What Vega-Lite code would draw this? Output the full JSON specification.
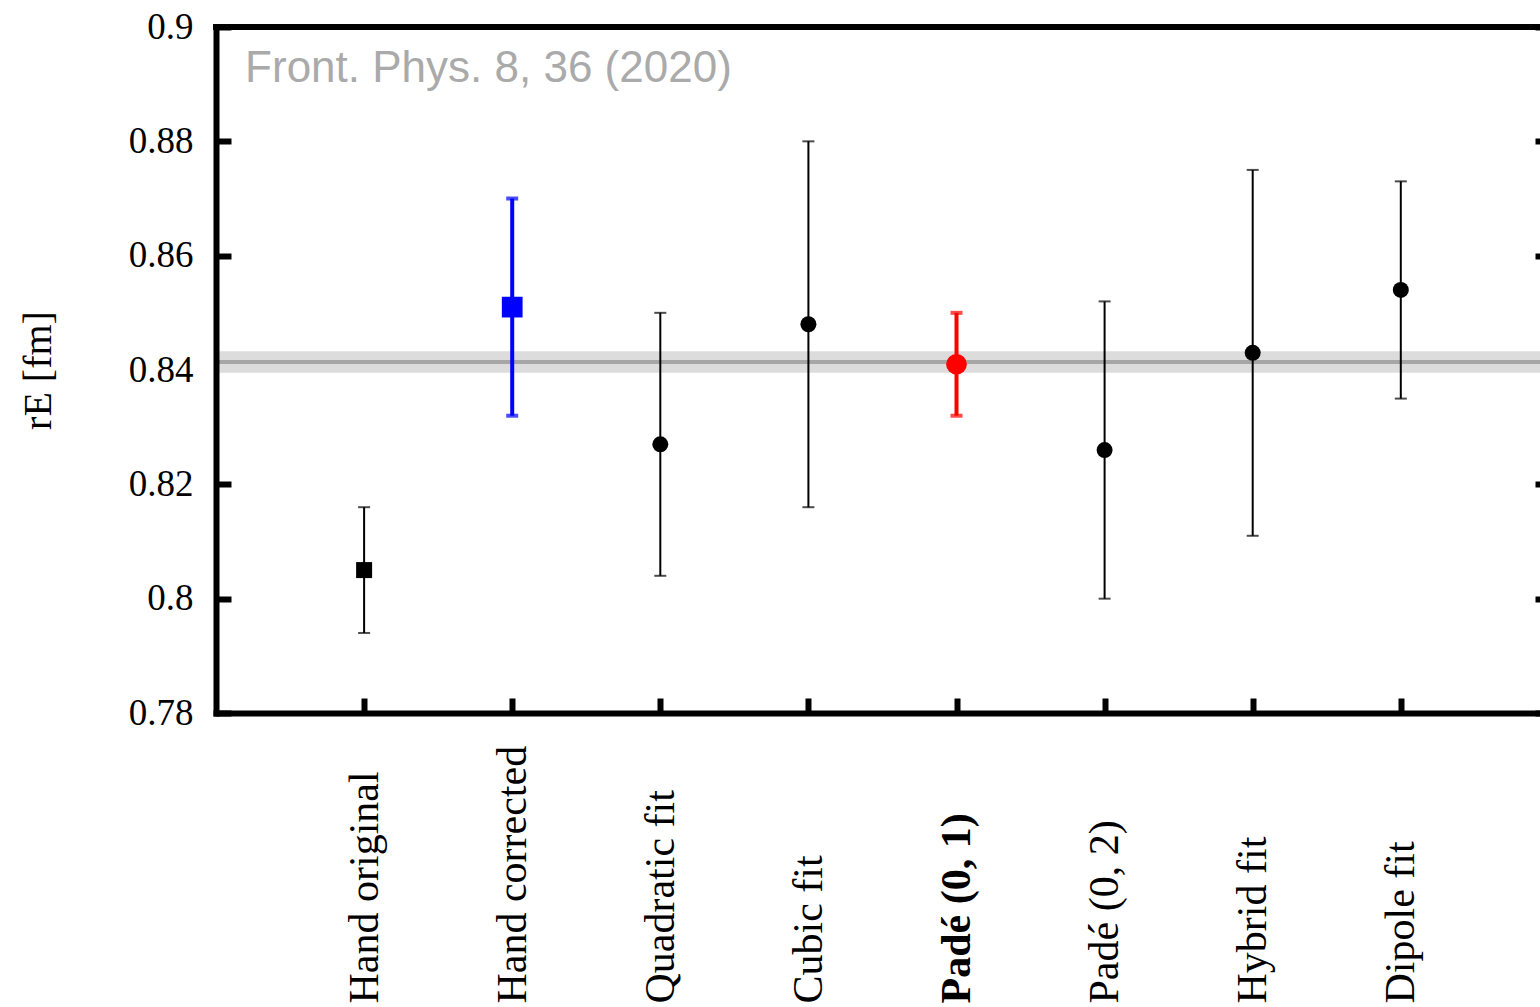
{
  "$schema": "https://vega.github.io/schema/vega-lite/v6.json",
  "width": 1324,
  "height": 686,
  "autosize": {"type": "none"},
  "padding": {"left": 216, "top": 27, "right": 0, "bottom": 294},
  "background": "white",
  "config": {
    "view": {"stroke": null},
    "axis": {"grid": false}
  },
  "datasets": {
    "radii": [
      {"method": "Hand original", "kind": "hand", "group": "previous", "r": 0.805, "lo": 0.794, "hi": 0.816},
      {"method": "Hand corrected", "kind": "hand", "group": "corrected", "r": 0.851, "lo": 0.832, "hi": 0.870},
      {"method": "Quadratic fit", "kind": "fit", "group": "previous", "r": 0.827, "lo": 0.804, "hi": 0.850},
      {"method": "Cubic fit", "kind": "fit", "group": "previous", "r": 0.848, "lo": 0.816, "hi": 0.880},
      {"method": "Padé (0, 1)", "kind": "fit", "group": "preferred", "r": 0.841, "lo": 0.832, "hi": 0.850},
      {"method": "Padé (0, 2)", "kind": "fit", "group": "previous", "r": 0.826, "lo": 0.800, "hi": 0.852},
      {"method": "Hybrid fit", "kind": "fit", "group": "previous", "r": 0.843, "lo": 0.811, "hi": 0.875},
      {"method": "Dipole fit", "kind": "fit", "group": "previous", "r": 0.854, "lo": 0.835, "hi": 0.873}
    ],
    "codata": [
      {"r": 0.8414, "lo": 0.8395, "hi": 0.8433}
    ],
    "source": [
      {"note": "Front. Phys. 8, 36 (2020)"}
    ]
  },
  "resolve": {"axis": {"y": "independent"}},
  "layer": [
    {
      "data": {"name": "codata"},
      "mark": {"type": "rect", "color": "#dcdcdc"},
      "encoding": {
        "y": {
          "field": "lo",
          "type": "quantitative",
          "scale": {"domain": [0.78, 0.9], "nice": false, "zero": false},
          "axis": {
            "title": "rE  [fm]",
            "titleFont": "Liberation Serif",
            "titleFontSize": 40,
            "titleFontWeight": "normal",
            "titleColor": "black",
            "titlePadding": 70,
            "values": [0.78, 0.8, 0.82, 0.84, 0.86, 0.88, 0.9],
            "format": ".2~f",
            "labelFont": "Liberation Serif",
            "labelFontSize": 37,
            "labelColor": "black",
            "labelPadding": 38,
            "tickSize": -15,
            "tickWidth": 6,
            "tickColor": {"condition": {"test": "datum.value === 0.84", "value": "transparent"}, "value": "black"},
            "domainWidth": 6,
            "domainColor": "black",
            "domainCap": "square",
            "zindex": 1
          }
        },
        "y2": {"field": "hi"}
      }
    },
    {
      "data": {"name": "codata"},
      "mark": {"type": "rule", "color": "#a6a6a6", "strokeWidth": 4},
      "encoding": {
        "y": {
          "field": "r",
          "type": "quantitative",
          "axis": {
            "orient": "right",
            "title": null,
            "labels": false,
            "domain": false,
            "values": [0.78, 0.8, 0.82, 0.84, 0.86, 0.88, 0.9],
            "tickSize": -5,
            "tickWidth": 6,
            "tickColor": {"condition": {"test": "datum.value === 0.84", "value": "transparent"}, "value": "black"},
            "zindex": 1
          }
        }
      }
    },
    {
      "data": {"name": "codata"},
      "mark": {"type": "rule", "color": "black", "strokeWidth": 6, "strokeCap": "square"},
      "encoding": {
        "y": {"datum": 0.9, "type": "quantitative", "axis": null}
      }
    },
    {
      "data": {"name": "radii"},
      "mark": {"type": "rule"},
      "encoding": {
        "x": {
          "field": "method",
          "type": "nominal",
          "sort": null,
          "scale": {
            "type": "point",
            "padding": 0.97,
            "align": 0.5155,
            "domain": ["Hand original", "Hand corrected", "Quadratic fit", "Cubic fit", "Padé (0, 1)", "Padé (0, 2)", "Hybrid fit", "Dipole fit"]
          },
          "axis": {
            "title": null,
            "orient": "bottom",
            "labelAngle": -90,
            "labelAlign": "left",
            "labelBaseline": "middle",
            "labelPadding": 305,
            "labelFont": "Liberation Serif",
            "labelFontSize": 42,
            "labelColor": "black",
            "labelFontWeight": {"condition": {"test": "datum.value === 'Padé (0, 1)'", "value": "bold"}, "value": "normal"},
            "labelLimit": 0,
            "labelOverlap": false,
            "tickSize": -15,
            "tickWidth": 6,
            "tickColor": "black",
            "domainWidth": 6,
            "domainColor": "black",
            "domainCap": "square",
            "zindex": 1
          }
        },
        "y": {"field": "lo", "type": "quantitative", "axis": null},
        "y2": {"field": "hi"},
        "color": {
          "field": "group",
          "type": "nominal",
          "scale": {"domain": ["previous", "corrected", "preferred"], "range": ["#000000", "#0000ff", "#ff0000"]},
          "legend": null
        },
        "strokeWidth": {"condition": {"test": "datum.group !== 'previous'", "value": 4}, "value": 2}
      }
    },
    {
      "data": {"name": "radii"},
      "transform": [
        {"filter": "datum.group === 'previous'"},
        {"fold": ["lo", "hi"], "as": ["end", "bound"]}
      ],
      "mark": {"type": "tick", "size": 12, "thickness": 2},
      "encoding": {
        "x": {"field": "method", "type": "nominal", "sort": null},
        "y": {"field": "bound", "type": "quantitative", "axis": null},
        "color": {"field": "group", "type": "nominal", "legend": null}
      }
    },
    {
      "data": {"name": "radii"},
      "transform": [
        {"filter": "datum.group !== 'previous'"},
        {"fold": ["lo", "hi"], "as": ["end", "bound"]}
      ],
      "mark": {"type": "tick", "size": 12, "thickness": 4},
      "encoding": {
        "x": {"field": "method", "type": "nominal", "sort": null},
        "y": {"field": "bound", "type": "quantitative", "axis": null},
        "color": {"field": "group", "type": "nominal", "legend": null}
      }
    },
    {
      "data": {"name": "radii"},
      "mark": {"type": "point", "filled": true, "opacity": 1},
      "encoding": {
        "x": {"field": "method", "type": "nominal", "sort": null},
        "y": {"field": "r", "type": "quantitative", "axis": null},
        "color": {"field": "group", "type": "nominal", "legend": null},
        "shape": {
          "field": "kind",
          "type": "nominal",
          "scale": {"domain": ["hand", "fit"], "range": ["square", "circle"]},
          "legend": null
        },
        "size": {"condition": {"test": "datum.group !== 'previous'", "value": 430}, "value": 256}
      }
    },
    {
      "data": {"name": "source"},
      "mark": {
        "type": "text",
        "align": "left",
        "baseline": "alphabetic",
        "dx": -119,
        "dy": 55,
        "font": "Liberation Sans",
        "fontSize": 44,
        "color": "#aaaaaa"
      },
      "encoding": {
        "x": {"datum": "Hand original"},
        "y": {"datum": 0.9, "type": "quantitative", "axis": null},
        "text": {"field": "note"}
      }
    }
  ]
}
